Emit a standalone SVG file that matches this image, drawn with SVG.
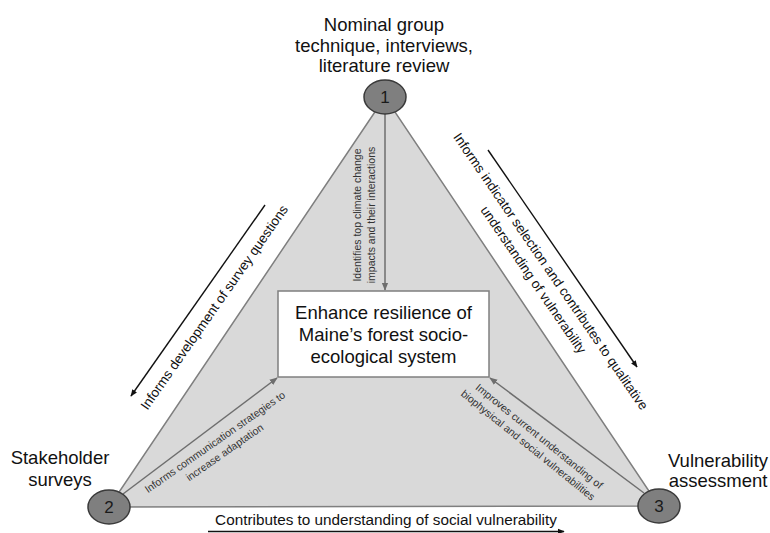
<svg xmlns="http://www.w3.org/2000/svg" width="770" height="533" viewBox="0 0 770 533">
<style>
.big{font-family:"Liberation Sans",Arial,sans-serif;font-size:18.5px;fill:#111;text-anchor:middle}
.num{font-family:"Liberation Sans",Arial,sans-serif;font-size:17px;fill:#1a1a1a;text-anchor:middle}
.outer{font-family:"Liberation Sans",Arial,sans-serif;font-size:13.5px;fill:#111;text-anchor:middle}
.small{font-family:"Liberation Sans",Arial,sans-serif;font-size:10.5px;fill:#333;text-anchor:middle}
.node{fill:#7f7f7f;stroke:#3a3a3a;stroke-width:1.5}
.inner{stroke:#6e6e6e;stroke-width:1.5;fill:none}
.outline{stroke:#111;stroke-width:1.4;fill:none}
</style>
<defs>
<marker id="ag" markerUnits="userSpaceOnUse" markerWidth="8" markerHeight="8" viewBox="0 0 10 10" refX="9" refY="5" orient="auto"><path d="M0,1 L10,5 L0,9 z" fill="#6e6e6e"/></marker>
<marker id="ab" markerUnits="userSpaceOnUse" markerWidth="7" markerHeight="7" viewBox="0 0 10 10" refX="9" refY="5" orient="auto"><path d="M0,1 L10,5 L0,9 z" fill="#111"/></marker>
</defs>
<rect width="770" height="533" fill="#fff"/>
<g id="triangle">
<polygon points="385,97 109,507 659,506" fill="#d9d9d9" stroke="#7f7f7f" stroke-width="1.5"/>
</g>
<g id="connectors">
<line class="inner" x1="385" y1="113" x2="385" y2="290" marker-end="url(#ag)"/>
<line class="inner" x1="123" y1="494" x2="277" y2="378" marker-end="url(#ag)"/>
<line class="inner" x1="644" y1="493" x2="490" y2="378" marker-end="url(#ag)"/>
<line class="outline" x1="265" y1="205" x2="131" y2="396" marker-end="url(#ab)"/>
<line class="outline" x1="488" y1="150" x2="637" y2="367" marker-end="url(#ab)"/>
<line class="outline" x1="208" y1="531.5" x2="564" y2="531.5" marker-end="url(#ab)"/>
<g transform="translate(364,215) rotate(-90)">
<text class="small" x="0" y="-3.5">Identifies top climate change</text>
<text class="small" x="0" y="10.5">impacts and their interactions</text>
</g>
<g transform="translate(217,445) rotate(-35)">
<text class="small" x="0" y="0">Informs communication strategies  to</text>
<text class="small" x="2" y="14">increase adaptation</text>
</g>
<g transform="translate(537,439) rotate(39)">
<text class="small" x="0" y="0">Improves current understanding of</text>
<text class="small" x="-3" y="14">biophysical and social vulnerabilities</text>
</g>
<g transform="translate(218,310) rotate(-55)">
<text class="outer" x="0" y="0">Informs development of survey questions</text>
</g>
<g transform="translate(547,274) rotate(55.5)">
<text class="outer" x="0" y="0">Informs indicator selection and contributes  to qualitative</text>
<text class="outer" x="-3" y="19">understanding of vulnerability</text>
</g>
<text class="big" x="386" y="525" style="font-size:15.3px">Contributes to understanding of social vulnerability</text>
</g>
<g id="center">
<rect x="278" y="291" width="211" height="86" fill="#fff" stroke="#7f7f7f" stroke-width="1.5"/>
<text class="big" x="383.5" y="319">Enhance resilience of</text>
<text class="big" x="383.5" y="341">Maine’s forest socio-</text>
<text class="big" x="383.5" y="363">ecological system</text>
</g>
<g id="node1">
<ellipse class="node" cx="385" cy="97" rx="21" ry="17"/>
<text class="num" x="385" y="103">1</text>
<text class="big" x="384" y="31">Nominal group</text>
<text class="big" x="384" y="52">technique, interviews,</text>
<text class="big" x="384" y="72">literature review</text>
</g>
<g id="node2">
<ellipse class="node" cx="109" cy="507" rx="21" ry="17"/>
<text class="num" x="109" y="513">2</text>
<text class="big" x="60" y="464">Stakeholder</text>
<text class="big" x="60" y="486">surveys</text>
</g>
<g id="node3">
<ellipse class="node" cx="659" cy="506" rx="21" ry="17"/>
<text class="num" x="659" y="512">3</text>
<text class="big" x="718" y="467">Vulnerability</text>
<text class="big" x="718" y="487">assessment</text>
</g>
</svg>
